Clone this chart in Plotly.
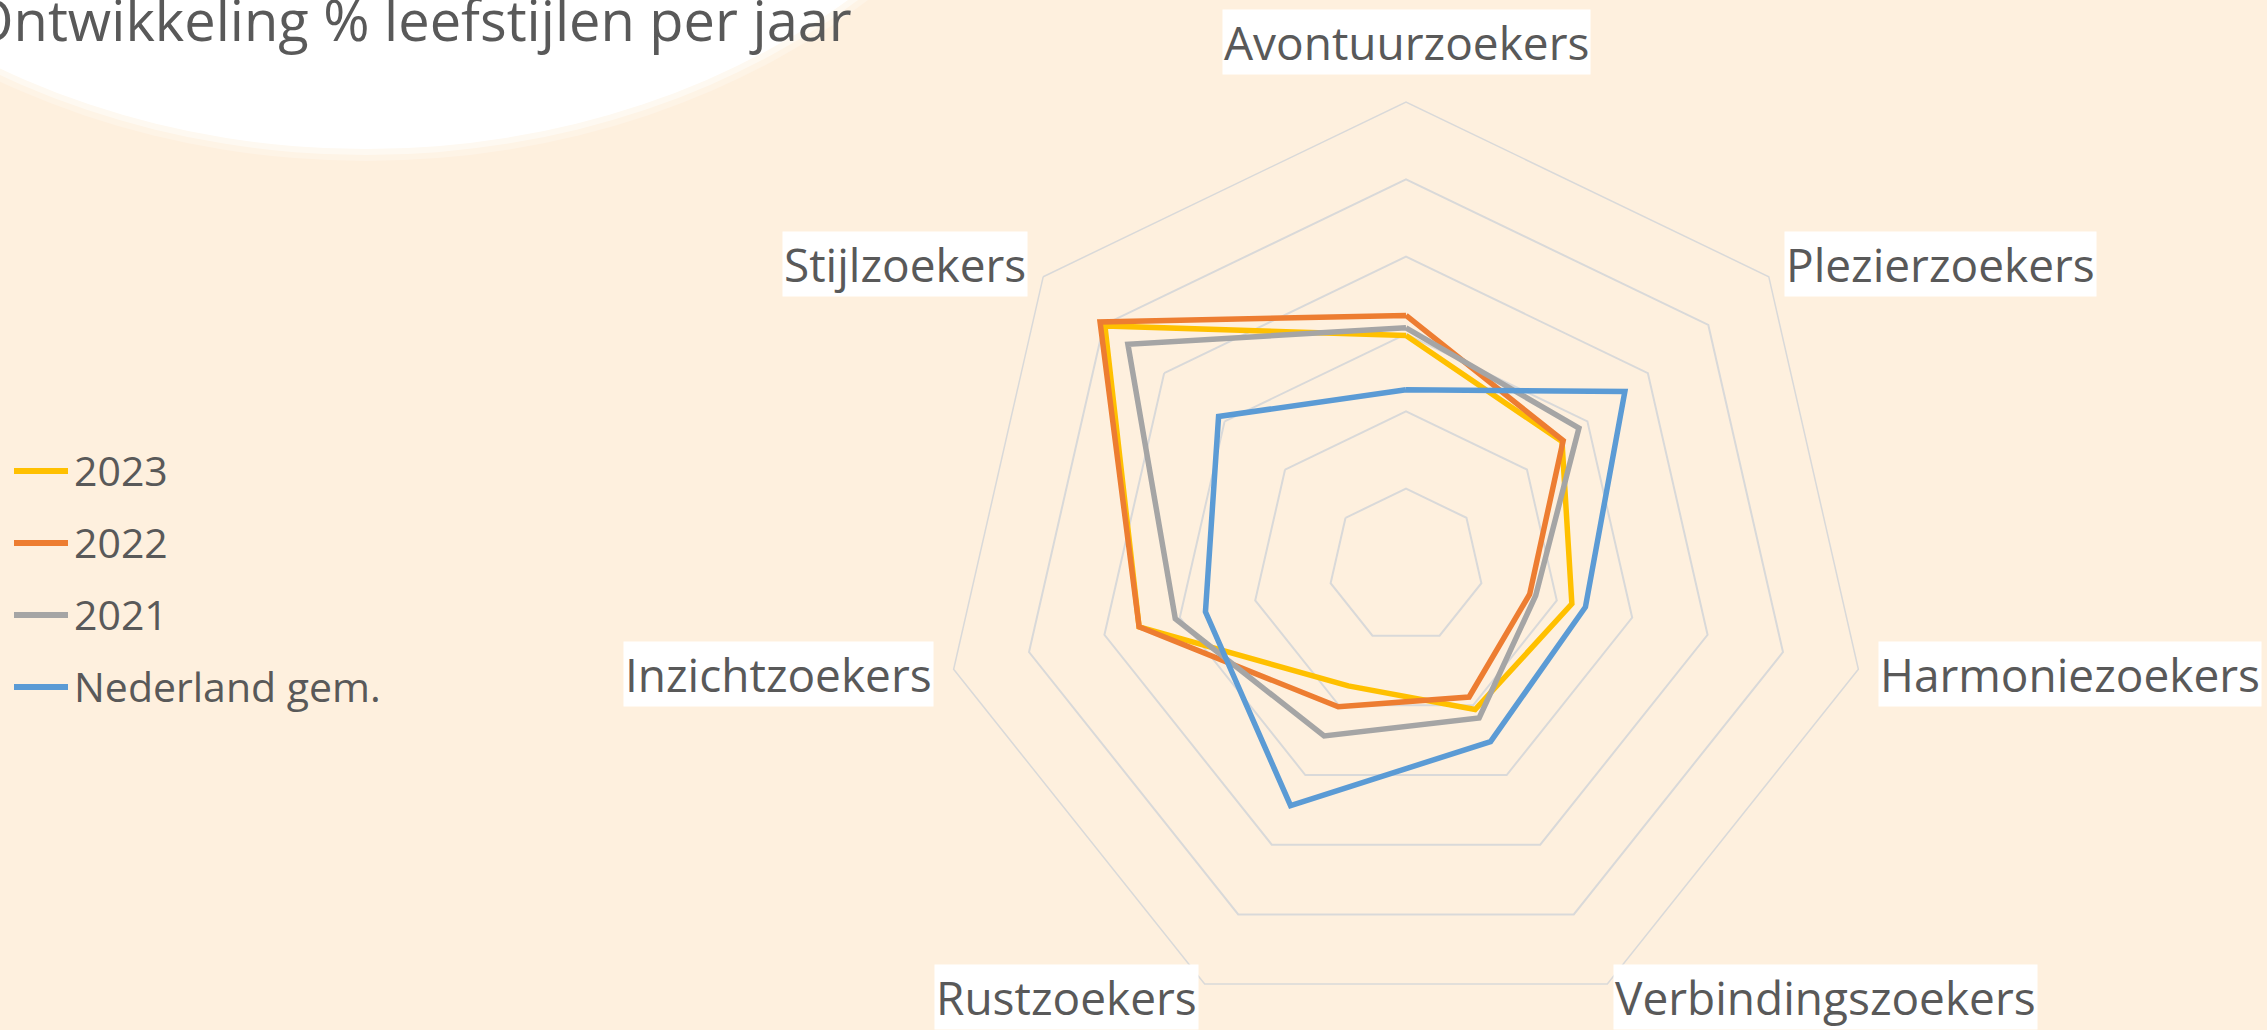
import math
import plotly.graph_objects as go

# ---------------- data ----------------
categories = ["Avontuurzoekers", "Plezierzoekers", "Harmoniezoekers",
              "Verbindingszoekers", "Rustzoekers", "Inzichtzoekers", "Stijlzoekers"]
series_names = ["2023", "2022", "2021", "Nederland gem."]
values_2023 = [14.9, 12.9, 11.0, 10.3, 8.6, 17.7, 24.9]
values_2022 = [16.2, 13.0, 8.2, 9.4, 10.1, 17.7, 25.3]
values_2021 = [15.4, 14.3, 8.6, 10.9, 12.2, 15.3, 23.0]
values_nl = [11.4, 18.1, 11.9, 12.6, 17.2, 13.3, 15.5]
radial_ticks = [5, 10, 15, 20, 25, 30]
title_text = "Ontwikkeling % leefstijlen per jaar"

# ---------------- style ----------------
W, H = 2267, 1030
BG = "#FEF0DE"
GRID = "#D9D9D9"
TXT = "#595959"
FONT = "Open Sans"
colors = ["#FFC000", "#ED7D31", "#A5A5A5", "#5B9BD5"]
all_values = [values_2023, values_2022, values_2021, values_nl]

CX = 1406.0
R = 464.0
dom_h = 2 * R
CY = H - dom_h / 2  # centre from top (domain starts at bottom)

fig = go.Figure()
for name, vals, col in zip(series_names, all_values, colors):
    fig.add_trace(go.Scatterpolar(
        r=vals + vals[:1],
        theta=categories + categories[:1],
        mode="lines",
        name=name,
        line=dict(color=col, width=5.5),
        showlegend=False,
    ))

shapes = []
annotations = []

# soft white ellipse behind the title
ecx, ecy, ea, eb = 366.0, -438.0, 724.0, 587.0
for grow, op in [(12, 0.25), (6, 0.45), (0, 1.0)]:
    shapes.append(dict(
        type="circle", xref="paper", yref="paper", layer="below",
        x0=(ecx - ea - grow) / W, x1=(ecx + ea + grow) / W,
        y0=1 - (ecy + eb + grow) / H, y1=1 - (ecy - eb - grow) / H,
        fillcolor="white", opacity=op, line=dict(width=0),
    ))

# title
annotations.append(dict(
    text=title_text, xref="paper", yref="paper",
    x=-32 / W, y=1 - 19 / H, xanchor="left", yanchor="middle",
    showarrow=False, font=dict(family=FONT, size=56, color=TXT),
))

# category labels with white boxes
n = len(categories)
for i, cat in enumerate(categories):
    th = math.radians(90 - i * 360 / n)
    c, s = math.cos(th), math.sin(th)
    if abs(c) < 0.1:
        d = 27
    elif s < -0.7:
        d = 14
    else:
        d = 20
    px = CX + (R + d) * c
    py = CY - (R + d) * s
    if c > 0.1:
        xa = "left"
    elif c < -0.1:
        xa = "right"
    else:
        xa = "center"
    ya = "bottom" if (abs(c) < 0.1 and s > 0) else "middle"
    annotations.append(dict(
        text=cat, xref="paper", yref="paper",
        x=px / W, y=1 - py / H, xanchor=xa, yanchor=ya,
        showarrow=False, bgcolor="white", borderpad=1,
        font=dict(family=FONT, size=46, color=TXT),
    ))

# custom legend
leg_y = [471, 543, 615, 687]
for name, col, ly in zip(series_names, colors, leg_y):
    shapes.append(dict(
        type="line", xref="paper", yref="paper",
        x0=14 / W, x1=68 / W, y0=1 - ly / H, y1=1 - ly / H,
        line=dict(color=col, width=6),
    ))
    annotations.append(dict(
        text=name, xref="paper", yref="paper",
        x=72 / W, y=1 - (ly - 1) / H, xanchor="left", yanchor="middle",
        showarrow=False, font=dict(family=FONT, size=41, color=TXT),
    ))

fig.update_layout(
    width=W, height=H,
    margin=dict(l=0, r=0, t=0, b=0),
    paper_bgcolor=BG,
    plot_bgcolor=BG,
    showlegend=False,
    shapes=shapes,
    annotations=annotations,
    polar=dict(
        domain=dict(x=[(CX - R) / W, (CX + R) / W], y=[0, dom_h / H]),
        bgcolor="rgba(0,0,0,0)",
        gridshape="linear",
        radialaxis=dict(
            range=[0, 30], tickvals=radial_ticks, showticklabels=False,
            ticks="", showline=False, gridcolor=GRID, gridwidth=1.5,
        ),
        angularaxis=dict(
            rotation=90, direction="clockwise", showgrid=False,
            showticklabels=False, ticks="", showline=True,
            linecolor=GRID, linewidth=1.5,
        ),
    ),
)

fig.write_html(
    "out.html",
    config={"displayModeBar": False},
    post_script=(
        "document.body.style.margin='0';"
        "document.body.style.padding='0';"
        "document.body.style.overflow='hidden';"
        "document.body.style.background='" + BG + "';"
    ),
)
